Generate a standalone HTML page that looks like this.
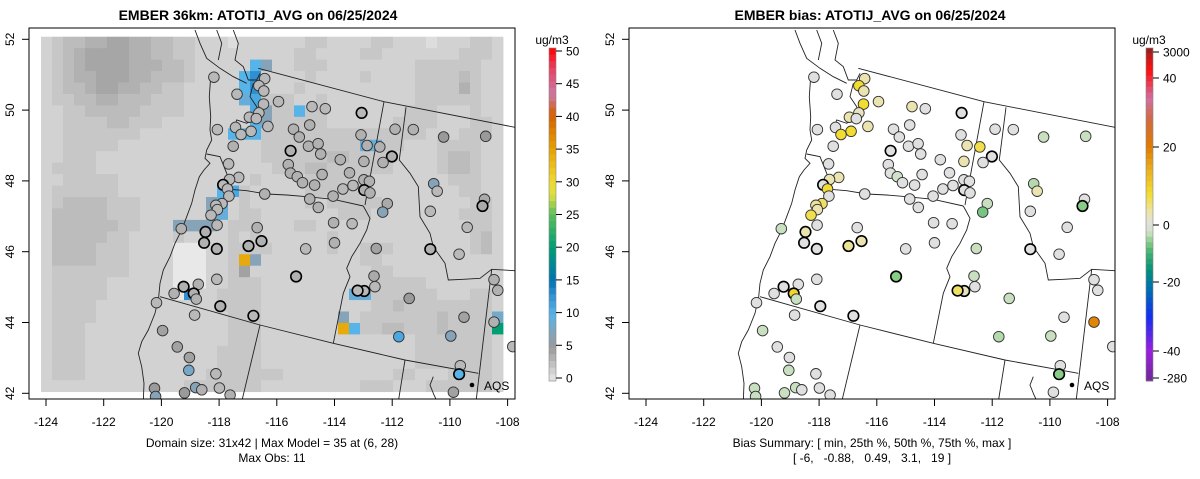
<!DOCTYPE html>
<html><head><meta charset="utf-8">
<style>
html,body{margin:0;padding:0;background:#fff;}
svg{display:block;font-family:"Liberation Sans",sans-serif;}
</style></head>
<body>
<svg id="fig" width="1200" height="479" viewBox="0 0 1200 479" xmlns="http://www.w3.org/2000/svg">
<defs>
<clipPath id="clipL"><rect x="29" y="28" width="486" height="371"/></clipPath>
<clipPath id="clipR"><rect x="629" y="28" width="486" height="371"/></clipPath>
</defs>
</svg>
<script>
// ---- data ----
const lonTicks = [-124,-122,-120,-118,-116,-114,-112,-110,-108];
const latTicks = [42,44,46,48,50,52];
const modelTicks = [0,5,10,15,20,25,30,35,40,45,50];
const biasTickLabels = ["3000","40","20","0","-20","-40","-280"];
// model grid rows (top->bottom), digit = gray level; letters = special values
const gridRows = [
"234455665544332221222222332222332221222332",
"234566665544332222222223322223322222223332",
"234566665554432222222223332222222233333322",
"234556665544432222222222322223222233334322",
"234456655443322222222223222222222233335322",
"233445544433322222223332232222222233333322",
"223344444333322222222333332222222333222322",
"223333443332222222233333332222223333222332",
"223333333222222222233333333333333332223332",
"223333322222222222223333333333333222333322",
"223332222222222222223333334433332222344322",
"233332222222222222222333443333332222344322",
"223333322222222222232222333333222222233322",
"233333322222222222322222333332222222223322",
"234444333222222222322222323333322222222332",
"244444333222222222332222222333222222223332",
"244444433222222223332223322222222222222332",
"244444332222322223232222223222222222222342",
"244443332222000223333222223223332222222342",
"244443332222000223332222222223322222222222",
"233333332222000223322222222222332222222222",
"233333222222000223332222222222333332222222",
"233333222222002233332222222222333333222332",
"233332222222222233332222222222334333333332",
"233332222222222223332222222223333333433332",
"233322222222222223332222222233344333433332",
"233322222222222223332222222222222233333332",
"233322222222222233332222222222222233333332",
"233322222222222233332222222222222233333332",
"233322222222222333333322222222223322233332",
"222222222222233333332222222223332223333332"];
// special cells: [row, col, value]
const hotCells = [
[2,19,10],[3,19,13],[4,19,13],[5,19,11],[6,19,11],[7,19,10],[8,19,10],
[3,18,10],[4,18,10],[5,18,9],[8,17,10],[8,18,10],[2,20,7],[6,20,7],[7,20,7],
[6,23,10],[9,29,9],[9,30,9],
[13,16,10],[14,16,10],[15,16,9],[13,17,11],[14,15,7],[15,15,7],[16,15,7],
[16,12,7],[16,13,7],[16,14,7],
[19,18,34],[19,19,7],[20,18,4.5],
[22,13,13],[22,28,9],[22,29,9],
[24,27,7],[25,27,34],[25,28,10],
[24,41,8],[25,41,20]];
// stations: [lon, lat, obs, bias, bold]
const stations = [
[-118.18,50.93,3,0,0],[-117.38,50.45,3,0,0],[-116.42,50.89,3,3,0],[-116.62,50.69,3,8,0],[-116.45,50.54,3,3,0],
[-116.46,50.17,3,8,0],[-115.94,50.24,3,3,0],[-114.78,50.10,3,3,0],[-114.32,50.04,3,0,0],[-113.06,49.92,3,0,1],
[-116.62,49.92,3,2,0],[-116.95,49.80,3,3,0],[-116.71,49.76,3,0,0],[-116.31,49.54,3,3,0],[-117.43,49.51,3,0,0],
[-118.06,49.45,3,0,0],[-117.24,49.31,3,8,0],[-116.89,49.40,3,8,0],[-115.42,49.46,3.5,0,0],[-114.86,49.58,3.5,0,0],
[-115.22,49.24,3.5,0,0],[-113.08,49.30,3.5,0,0],[-111.90,49.46,3.5,0,0],[-111.27,49.45,3.5,0,0],[-110.22,49.24,5,-3,0],
[-108.76,49.26,5,-3,0],[-117.51,48.98,3.5,0,0],[-115.52,48.85,3.5,0,1],[-114.90,48.98,3.5,0,0],[-114.57,49.05,3.5,0,0],
[-114.48,48.76,3.5,0,0],[-113.80,48.60,3.5,0,0],[-112.87,49.00,3.5,3,0],[-112.43,48.96,3.5,7,0],[-112.01,48.69,3.5,0,1],
[-112.32,48.52,3.5,0,0],[-112.98,48.55,3.5,3,0],[-113.48,48.23,3.5,0,0],[-115.60,48.46,3.5,0,0],[-115.53,48.22,3.5,0,0],
[-115.29,48.12,3.5,-2,0],[-115.11,47.95,3.5,0,0],[-114.43,48.18,3.5,0,0],[-114.69,47.88,3.5,0,0],[-117.67,48.48,3,0,0],
[-117.32,48.10,3,3,0],[-117.64,48.04,3,3,0],[-117.86,47.89,3,0,1],[-117.71,47.77,3,8,0],[-117.66,47.57,3,0,0],
[-117.90,47.36,3,6,0],[-118.11,47.31,3,4,0],[-118.06,47.19,3,3,0],[-118.28,47.03,3,7,0],[-118.07,46.75,3,0,0],
[-118.47,46.56,3.5,3,1],[-118.52,46.25,3.5,0,1],[-118.08,46.08,3.5,0,1],[-119.31,46.65,3.5,-3,0],[-116.98,46.16,3.5,4,1],
[-116.68,46.68,3.5,0,0],[-116.53,46.30,3.5,3,1],[-116.42,47.63,3.5,0,0],[-114.86,47.49,3.5,0,0],[-114.56,47.25,3.5,0,0],
[-114.05,47.57,3.5,0,0],[-113.71,47.77,3,0,0],[-113.36,47.87,3,0,0],[-112.98,48.03,3.5,0,0],[-112.79,47.99,3.5,0,0],
[-112.97,47.74,3.5,0,1],[-112.77,47.66,3.5,0,0],[-112.17,47.36,4,-3,0],[-112.33,47.12,7,-7,0],[-114.03,46.82,3.5,0,0],
[-113.39,46.79,3,0,0],[-114.00,46.25,3.5,0,0],[-115.00,46.08,3,0,0],[-112.55,46.09,4.5,-3,0],[-110.56,47.92,7,-4,0],
[-110.44,47.71,3,3,0],[-110.68,47.14,3,0,0],[-110.68,46.07,3.5,0,1],[-109.68,45.93,3,0,0],[-109.40,46.69,3,0,0],
[-108.80,47.48,4,0,0],[-108.87,47.29,4,-6,1],[-108.47,45.21,3.5,0,0],[-108.34,44.91,3.5,0,0],[-108.47,44.01,3.5,19,0],
[-107.82,43.32,3,0,0],[-109.51,44.15,4.5,0,0],[-109.97,43.62,7,-3,0],[-109.64,42.78,3,0,0],[-109.68,42.54,10,-6,1],
[-109.88,42.03,4.5,0,0],[-111.41,44.68,5,-3,0],[-111.77,43.60,11,-4,0],[-112.63,45.31,4,-3,0],[-112.60,45.01,3,0,0],
[-112.97,44.89,3,2,1],[-113.20,44.90,3,6,1],[-115.33,45.30,3.5,-6,1],[-118.08,45.22,3,0,0],[-118.72,45.08,3.5,0,0],
[-119.23,45.01,3.5,0,1],[-119.56,44.82,3.5,0,0],[-118.88,44.82,3.5,9,1],[-118.79,44.66,3.5,-3,0],[-120.17,44.56,3,0,0],
[-117.96,44.46,3.5,0,1],[-118.85,44.21,3,0,0],[-116.81,44.19,3,0,1],[-119.96,43.77,4.5,-3,0],[-119.45,43.31,4.5,0,0],
[-119.03,43.01,4.5,0,0],[-119.05,42.65,8,-3,0],[-118.11,42.55,3,0,0],[-117.99,42.15,3,0,0],[-118.81,42.16,7,-3,0],
[-118.60,42.10,3.5,0,0],[-119.20,42.01,5,-3,0],[-120.24,42.14,5,-3,0],[-120.20,41.91,7,-3,0],[-117.62,41.95,3.5,0,0]];

// ---- scales ----
const NS = "http://www.w3.org/2000/svg";
const svg = document.getElementById('fig');
function xScale(lon, off){ return off + 46 + (lon + 124) * 28.85; }
function yScale(lat){ return 39.3 + (52 - lat) * 35.4; }
function hex(c){ return '#' + c.map(v => Math.round(v).toString(16).padStart(2,'0')).join(''); }
function parse(h){ return [parseInt(h.substr(1,2),16),parseInt(h.substr(3,2),16),parseInt(h.substr(5,2),16)]; }
function interp(stops, v){
  if (v <= stops[0][0]) return stops[0][1];
  for (let i = 1; i < stops.length; i++){
    if (v <= stops[i][0]){
      const t = (v - stops[i-1][0]) / (stops[i][0] - stops[i-1][0]);
      const a = parse(stops[i-1][1]), b = parse(stops[i][1]);
      return hex(a.map((x,k) => x + (b[k]-x)*t));
    }
  }
  return stops[stops.length-1][1];
}
const modelStops = [[0,'#e8e8e8'],[5,'#9a9a9a'],[7,'#86a3b8'],[10,'#56b4e9'],[13,'#2f8fd0'],[15,'#0072b2'],[20,'#009e73'],
 [25,'#5cc05a'],[28,'#e0e040'],[30,'#f0d830'],[35,'#e69f00'],[40,'#d55e00'],[43,'#cc79a7'],[47,'#e84060'],[50,'#ff0000']];
const biasStops = [[-50,'#6a2a8a'],[-40,'#9a20e0'],[-30,'#1030f0'],[-22,'#0070b0'],[-16,'#00907a'],[-10,'#40b070'],
 [-6,'#88cc88'],[-3,'#c8e0c0'],[0,'#e0e0e0'],[3,'#ebe4b0'],[8,'#f2dc30'],[14,'#eab020'],[20,'#e07b00'],[28,'#d06a40'],[34,'#d070a0'],[42,'#ff1010'],[50,'#9a2020']];
function modelColor(v){ return interp(modelStops, v); }
function biasColor(v){ return interp(biasStops, v); }

function el(tag, attrs, parent){
  const e = document.createElementNS(NS, tag);
  for (const k in attrs) e.setAttribute(k, attrs[k]);
  (parent || svg).appendChild(e);
  return e;
}
function txt(x, y, s, size, extra, parent){
  const t = el('text', Object.assign({x:x, y:y, 'font-size':size, 'text-anchor':'middle', fill:'#000'}, extra||{}), parent);
  t.textContent = s;
  return t;
}

// ---- map geometry (outline coords in a reference pixel space) ----
const borders = [
 [[585,0],[600,40],[620,85],[660,115],[700,140],[740,160]],
 [[632,140],[628,200],[632,260],[630,300],[635,330],[620,360],[615,385],[630,400],[612,420],[598,440],[585,480],[575,520],[560,560],[545,600],[525,640],[510,680],[490,720],[480,760],[476,800],[465,850],[445,900],[425,935],[415,970],[425,1010],[432,1060],[430,1115]],
 [[700,0],[715,40],[705,90],[730,110],[745,150],[770,150],[780,130]],
 [[760,160],[750,200],[770,230],[775,260],[740,280],[710,270],[700,300],[720,320]],
 [[650,0],[665,40],[655,90]],
 [[620,372],[660,380],[680,430],[690,478]],
 [[690,478],[740,482],[800,492],[860,495],[920,500],[1000,508],[1090,528]],
 [[1090,528],[1110,565],[1100,600],[1080,640],[1055,680],[1040,715],[1050,740],[1030,790],[1000,940]],
 [[1152,215],[1095,525]],
 [[775,115],[1152,215],[1545,292]],
 [[1218,232],[1198,390],[1230,430],[1255,470],[1260,560],[1290,610],[1300,650],[1335,700],[1345,750],[1390,748],[1440,745],[1475,718],[1545,722]],
 [[1475,718],[1428,1115]],
 [[480,800],[780,885],[1000,940],[1215,990],[1435,1030]],
 [[780,885],[725,1115]],
 [[1215,990],[1195,1115]],
 [[1300,1040],[1290,1065],[1302,1095],[1312,1115]]
];

function drawPanel(off, isBias){
  const g = el('g', {});
  
  
  const clip = el('g', {'clip-path': isBias ? 'url(#clipR)' : 'url(#clipL)'}, g);
  if (!isBias){
    const gridG = el('g', {}, clip);
    
    
    const cw = 11.0, ch = 11.45, gx = 41 + off, gy = 36.7;
    const vals = gridRows.map(r => r.padEnd(42,'2').slice(0,42).split('').map(c => (+c) * 0.7));
    hotCells.forEach(h => { vals[h[0]][h[1]] = h[2]; });
    vals.forEach((row, r) => row.forEach((v, c) => {
      const rc = el('rect', {x: (gx + c*cw).toFixed(2), y: (gy + r*ch).toFixed(2), width: cw+0.4, height: ch+0.4, fill: modelColor(v)}, gridG);
      
      
    }));
  }
  const bg = el('g', {fill:'none', stroke:'#222', 'stroke-width':'0.9'}, clip);
  
  
  borders.forEach(b => {
    el('polyline', {points: b.map(p => (off + p[0]/3).toFixed(1) + ',' + (30 + p[1]/3).toFixed(1)).join(' ')}, bg);
  });
  const pg = el('g', {}, clip);
  
  
  stations.forEach(s => {
    const c = el('circle', {cx: xScale(s[0], off).toFixed(1), cy: yScale(s[1]).toFixed(1), r: 5.3,
      fill: isBias ? biasColor(s[3]) : modelColor(s[2]), stroke: s[4] ? '#000' : '#333', 'stroke-width': s[4] ? 1.6 : 0.9}, pg);
    
    
  });
  // AQS legend
  const lg = el('g', {}, g);
  
  
  el('circle', {cx: off+472, cy: 385, r: 2.3, fill:'#000'}, lg);
  txt(off+484, 390, 'AQS', 12, {'text-anchor':'start'}, lg);
  // frame
  const fr = el('rect', {x: off+29, y: 28, width: 486, height: 371, fill:'none', stroke:'#000', 'stroke-width':1}, g);
  
  
  // x axis
  const xa = el('g', {}, g);
  
  
  lonTicks.forEach(t => {
    const x = xScale(t, off);
    el('line', {x1:x, x2:x, y1:399, y2:406, stroke:'#000'}, xa);
    const l = txt(x, 426, String(t).replace('-', '-'), 12, {}, xa);
    
    
  });
  // y axis
  const ya = el('g', {}, g);
  
  
  latTicks.forEach(t => {
    const y = yScale(t);
    el('line', {x1:off+22, x2:off+29, y1:y, y2:y, stroke:'#000'}, ya);
    const l = txt(off+14, y, String(t), 12, {transform:'rotate(-90 ' + (off+14) + ' ' + y + ')', dy:'0'}, ya);
    
    
  });
}
drawPanel(0, false);
drawPanel(600, true);

// titles & captions
let t;
t = txt(258, 20, 'EMBER 36km: ATOTIJ_AVG on 06/25/2024', 14, {'font-weight':'bold'});
 
t = txt(870, 20, 'EMBER bias: ATOTIJ_AVG on 06/25/2024', 14, {'font-weight':'bold'});
 
t = txt(272, 447, 'Domain size: 31x42 | Max Model = 35 at (6, 28)', 12);
 
t = txt(272, 462, 'Max Obs: 11', 12);
 
t = txt(872, 447, 'Bias Summary: [ min, 25th %, 50th %, 75th %, max ]', 12);
 
t = txt(872, 462, '[ -6,   -0.88,   0.49,   3.1,   19 ]', 12, {'xml:space':'preserve', style:'white-space:pre'});
 

// model colorbar
(function(){
  const g = el('g', {});
  
  
  const x = 549, w = 7, top = 48, bot = 381, n = 50;
  for (let i = 0; i < n; i++){
    const v = 50 - (i + 0.5);
    el('rect', {x:x, y:(top + i*(bot-top)/n).toFixed(2), width:w, height:((bot-top)/n+0.4).toFixed(2), fill:modelColor(v)}, g);
  }
  el('rect', {x:x, y:top, width:w, height:bot-top, fill:'none', stroke:'#888', 'stroke-width':0.6}, g);
  modelTicks.forEach(m => {
    const y = bot - 3 - (m/50)*(bot-top-6);
    el('line', {x1:x+w, x2:x+w+6, y1:y, y2:y, stroke:'#000'}, g);
    txt(x+w+10, y+4.5, String(m), 12, {'text-anchor':'start'}, g);
  });
  txt(552, 44, 'ug/m3', 12, {}, g);
})();

// bias colorbar
(function(){
  const g = el('g', {});
  
  
  const x = 1146, w = 7, top = 48, bot = 381;
  const tickY = [52, 78, 147, 225, 282, 351, 378];
  const tickV = [48, 40, 20, 0, -20, -40, -48];
  const n = 60;
  for (let i = 0; i < n; i++){
    const y = top + (i+0.5)*(bot-top)/n;
    let v = tickV[tickV.length-1];
    for (let k = 1; k < tickY.length; k++){
      if (y <= tickY[k]){ v = tickV[k-1] + (tickV[k]-tickV[k-1])*(y-tickY[k-1])/(tickY[k]-tickY[k-1]); break; }
    }
    if (y < tickY[0]) v = 50;
    el('rect', {x:x, y:(top + i*(bot-top)/n).toFixed(2), width:w, height:((bot-top)/n+0.4).toFixed(2), fill:biasColor(v)}, g);
  }
  el('rect', {x:x, y:top, width:w, height:bot-top, fill:'none', stroke:'#888', 'stroke-width':0.6}, g);
  biasTickLabels.forEach((s, i) => {
    const y = tickY[i];
    el('line', {x1:x+w, x2:x+w+6, y1:y, y2:y, stroke:'#000'}, g);
    txt(x+w+10, y+4.5, s, 12, {'text-anchor':'start'}, g);
  });
  txt(1149, 44, 'ug/m3', 12, {}, g);
})();
</script>
</body></html>
